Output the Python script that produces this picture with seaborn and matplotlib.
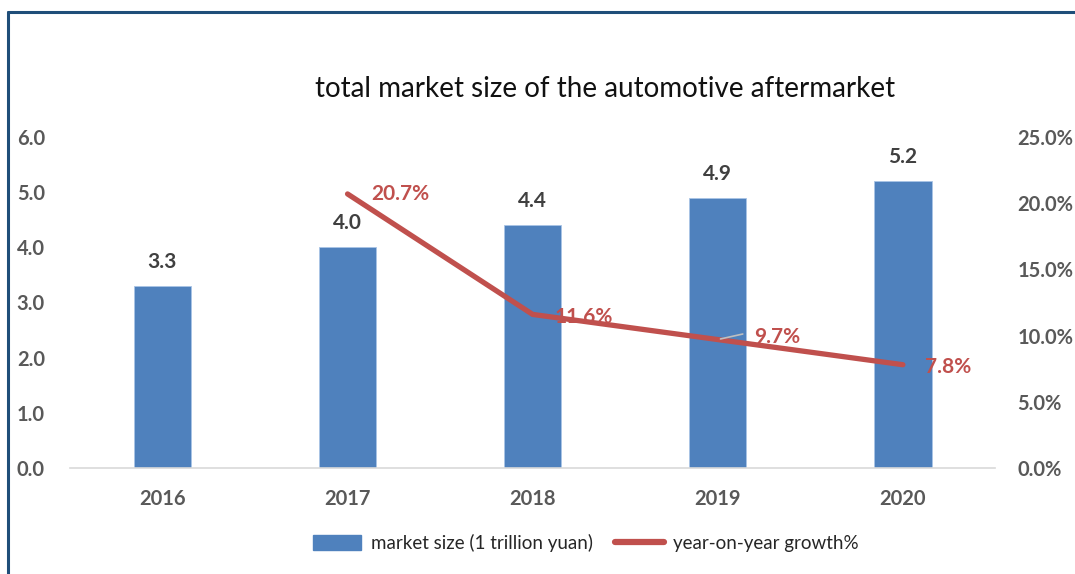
import numpy as np
import pandas as pd
import matplotlib
matplotlib.use('Agg')
import matplotlib.pyplot as plt
import seaborn as sns
from matplotlib.lines import Line2D
from matplotlib.patches import Patch
from matplotlib.ticker import PercentFormatter, MultipleLocator

# data
years = ['2016', '2017', '2018', '2019', '2020']
market_size = [3.3, 4.0, 4.4, 4.9, 5.2]          # 1 trillion yuan
growth = [np.nan, 20.7, 11.6, 9.7, 7.8]          # year-on-year growth %

bar_label = 'market size (1 trillion yuan)'
line_label = 'year-on-year growth%'
title = 'total market size of the automotive aftermarket'

sns.set_style('white')
plt.rcParams['font.family'] = ['Lato', 'DejaVu Sans']

bar_color = '#4F81BD'
line_color = '#C0504D'
tick_color = '#595959'

df = pd.DataFrame({'year': years, 'size': market_size, 'growth': growth})
df['pos'] = np.arange(len(df))

fig = plt.figure(figsize=(10.75, 5.74), dpi=100)
ax = fig.add_axes([0.065, 0.1847, 0.861, 0.5766])

sns.barplot(data=df, x='year', y='size', color=bar_color, width=0.31,
            edgecolor='#A9C4E6', linewidth=0.6, saturation=1, ax=ax)
ax.set_ylim(0, 6)
ax.set_xlim(-0.5, len(years) - 0.5)
ax.yaxis.set_major_locator(MultipleLocator(1))
ax.yaxis.set_major_formatter(lambda v, p: f'{v:.1f}')
ax.set_xlabel('')
ax.set_ylabel('')

# bar value labels
for p in ax.patches:
    ax.annotate(f'{p.get_height():.1f}', (p.get_x() + p.get_width() / 2, p.get_height()),
                xytext=(0, 10), textcoords='offset points', ha='center', va='bottom',
                fontsize=15, fontweight='bold', color='#404040')

ax2 = ax.twinx()
sns.lineplot(data=df, x='pos', y='growth', color=line_color, linewidth=3.8,
             solid_joinstyle='miter', ax=ax2)
ax2.set_ylim(0, 25)
ax2.yaxis.set_major_locator(MultipleLocator(5))
ax2.yaxis.set_major_formatter(PercentFormatter(decimals=1))
ax2.set_xlabel('')
ax2.set_ylabel('')

# growth labels
offsets = {1: (17, 0), 2: (16, -2), 3: (26, 2), 4: (16, -2)}
for i, g in enumerate(growth):
    if np.isnan(g):
        continue
    dx, dy = offsets[i]
    ax2.annotate(f'{g:.1f}%', (df['pos'][i], g), xytext=(dx, dy),
                 textcoords='offset points', ha='left', va='center',
                 fontsize=15, fontweight='bold', color=line_color)
# leader line for 2019 label
ax2.annotate('', (df['pos'][3], growth[3]), xytext=(18, 4), textcoords='offset points',
             arrowprops=dict(arrowstyle='-', color='#BFBFBF', lw=1.2,
                             shrinkA=0, shrinkB=2))

for a in (ax, ax2):
    for s in a.spines.values():
        s.set_visible(False)
    a.tick_params(length=0)
ax.spines['bottom'].set_visible(True)
ax.spines['bottom'].set_color('#D9D9D9')
ax.spines['bottom'].set_linewidth(1.2)

for lab in ax.get_xticklabels() + ax.get_yticklabels() + ax2.get_yticklabels():
    lab.set_fontsize(14.5)
    lab.set_fontweight('bold')
    lab.set_color(tick_color)
ax.tick_params(axis='y', pad=18)
ax.tick_params(axis='x', pad=15)
ax2.tick_params(axis='y', pad=16)

fig.text(0.563, 0.845, title, ha='center', va='center', fontsize=20, color='#111111')

handles = [Patch(facecolor=bar_color, edgecolor=bar_color),
           Line2D([0], [0], color=line_color, linewidth=4.5, solid_capstyle='round')]
fig.legend(handles, [bar_label, line_label], loc='center', bbox_to_anchor=(0.545, 0.054),
           ncol=2, frameon=False, fontsize=13.5, handlelength=2.6, handleheight=0.8,
           columnspacing=1.2, handletextpad=0.5)

# blue frame (left and top edges show in the crop)
frame_color = '#1F4E79'
fig.add_artist(Line2D([8 / 1075, 8 / 1075], [0, 1 - 12 / 574], transform=fig.transFigure,
                      color=frame_color, linewidth=2.2))
fig.add_artist(Line2D([8 / 1075, 1], [1 - 12 / 574, 1 - 12 / 574], transform=fig.transFigure,
                      color=frame_color, linewidth=2.2))

fig.savefig('out.png', dpi=100)
